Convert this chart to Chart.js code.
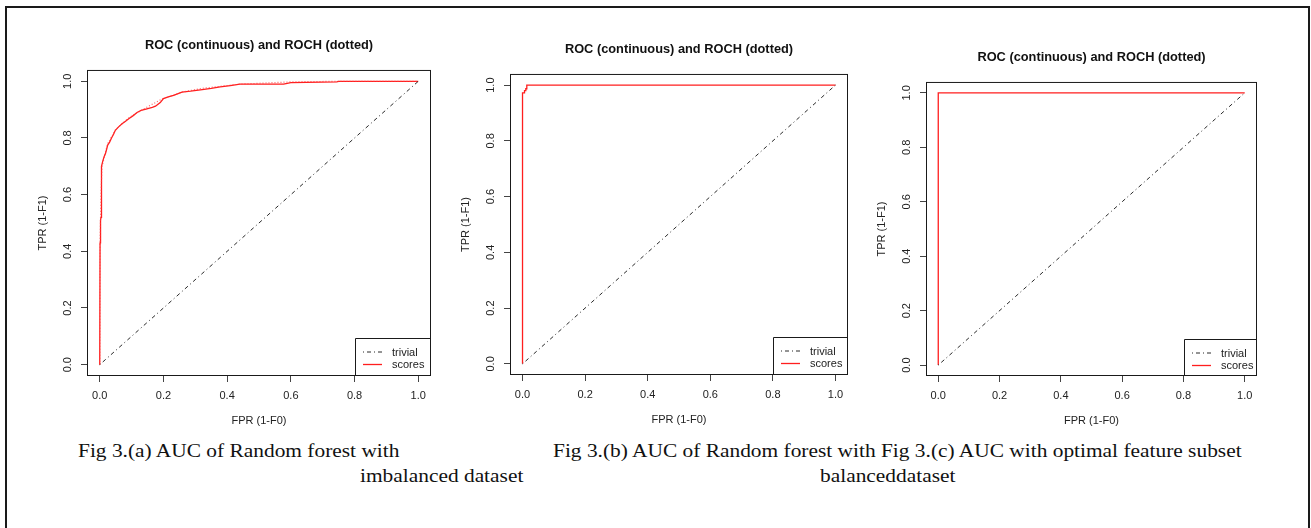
<!DOCTYPE html>
<html>
<head>
<meta charset="utf-8">
<script src="https://cdn.jsdelivr.net/npm/chart.js@4.4.1/dist/chart.umd.min.js"></script>
<style>
  html, body { margin: 0; padding: 0; background: #fff; }
  #page { position: relative; width: 1311px; height: 528px; overflow: hidden; }
  #frame { position: absolute; left: 5px; top: 6px; width: 1301px; height: 560px;
           border: 2px solid #1a1a1a; border-bottom: none; }
  canvas { position: absolute; }
  .cap { position: absolute; font-family: "Liberation Serif", "Times New Roman", serif;
         font-size: 21.4px; line-height: 21px; color: #111; white-space: nowrap;
         transform: scaleY(0.87); }
</style>
</head>
<body>
<div id="page">
  <div id="frame"></div>
  <canvas id="rocA"></canvas>
  <canvas id="rocB"></canvas>
  <canvas id="rocC"></canvas>
  <div class="cap" style="left:78px;top:441px">Fig 3.(a) AUC of Random forest with</div>
  <div class="cap" style="left:360px;top:466px">imbalanced dataset</div>
  <div class="cap" style="left:553px;top:441px">Fig 3.(b) AUC of Random forest with Fig 3.(c) AUC with optimal feature subset</div>
  <div class="cap" style="left:820px;top:466px">balanceddataset</div>
</div>
<script>
// axis ticks (same for all three panels)
const xTicks = [0, 0.2, 0.4, 0.6, 0.8, 1.0];
const yTicks = [0, 0.2, 0.4, 0.6, 0.8, 1.0];
const legendLabels = ['trivial', 'scores'];

// diagonal "trivial" classifier
const trivialFpr = [0, 1];
const trivialTpr = [0, 1];

// (a) random forest, imbalanced data
const rocA_fpr = [0, 0.001, 0.002, 0.003, 0.004, 0.005, 0.006, 0.01, 0.014, 0.018, 0.022, 0.025, 0.031, 0.037,
                  0.043, 0.049, 0.06, 0.07, 0.08, 0.091, 0.104, 0.117, 0.13, 0.148, 0.165, 0.175, 0.19, 0.2,
                  0.215, 0.232, 0.258, 0.285, 0.316, 0.35, 0.378, 0.41, 0.44, 0.577, 0.6, 0.744, 0.75, 1];
const rocA_tpr = [0, 0.43, 0.44, 0.51, 0.52, 0.62, 0.70, 0.72, 0.735, 0.745, 0.762, 0.775, 0.785, 0.80,
                  0.812, 0.827, 0.84, 0.85, 0.858, 0.868, 0.878, 0.89, 0.897, 0.903, 0.908, 0.912, 0.925, 0.939,
                  0.945, 0.95, 0.962, 0.965, 0.97, 0.975, 0.98, 0.985, 0.99, 0.99, 0.995, 0.998, 1.0, 1];
const hullA_fpr = [0, 0.001, 0.004, 0.007, 0.025, 0.05, 0.09, 0.15, 0.2, 0.26, 0.32, 0.44, 0.6, 0.75, 1];
const hullA_tpr = [0, 0.43, 0.60, 0.70, 0.78, 0.83, 0.87, 0.91, 0.94, 0.962, 0.975, 0.99, 0.998, 1.0, 1];

// (b) random forest, balanced data
const rocB_fpr = [0, 0, 0.0064, 0.0064, 0.0105, 0.0105, 0.0137, 0.0137, 0.017, 1];
const rocB_tpr = [0, 0.972, 0.972, 0.98, 0.98, 0.987, 0.987, 1.0, 1.0, 1];

// (c) optimal feature subset
const rocC_fpr = [0, 0, 1];
const rocC_tpr = [0, 1, 1];

Chart.defaults.font.family = '"Liberation Sans", Arial, sans-serif';
Chart.defaults.color = '#222';

const pts = (xs, ys) => xs.map((x, i) => ({x: x, y: ys[i]}));

// R style box around the plot region
const plotBox = {
  id: 'plotBox',
  afterDraw(chart) {
    const a = chart.chartArea, ctx = chart.ctx;
    ctx.save();
    ctx.strokeStyle = '#1a1a1a';
    ctx.lineWidth = 1;
    ctx.strokeRect(a.left + 0.5, a.top + 0.5, a.right - a.left - 1, a.bottom - a.top - 1);
    ctx.restore();
  }
};

// legend in the bottom-right corner, like legend("bottomright") in R
const rLegend = {
  id: 'rLegend',
  afterDatasetsDraw(chart, args, opts) {
    const a = chart.chartArea, ctx = chart.ctx;
    const x0 = Math.round(a.right - opts.w), y0 = Math.round(a.bottom - opts.h);
    ctx.save();
    ctx.fillStyle = '#fff';
    ctx.fillRect(x0, y0, a.right - x0, a.bottom - y0);
    ctx.strokeStyle = '#1a1a1a';
    ctx.lineWidth = 1;
    ctx.beginPath();
    ctx.moveTo(x0 + 0.5, a.bottom);
    ctx.lineTo(x0 + 0.5, y0 + 0.5);
    ctx.lineTo(a.right, y0 + 0.5);
    ctx.stroke();
    const items = chart.data.datasets.filter(d => legendLabels.includes(d.label));
    items.forEach((d, i) => {
      const y = y0 + 14 + i * 12.5;
      ctx.strokeStyle = d.borderColor;
      ctx.lineWidth = d.borderWidth;
      ctx.setLineDash(d.borderDash || []);
      ctx.beginPath();
      ctx.moveTo(x0 + 8, y);
      ctx.lineTo(x0 + 27, y);
      ctx.stroke();
      ctx.setLineDash([]);
      ctx.fillStyle = '#222';
      ctx.font = '11px "Liberation Sans", Arial, sans-serif';
      ctx.textBaseline = 'middle';
      ctx.textAlign = 'left';
      ctx.fillText(d.label, x0 + 37, y + 0.5);
    });
    ctx.restore();
  }
};

function rocChart(id, box, datasets, legendSize) {
  const padL = 60, padR = 60, padT = 40, padB = 58;
  const cv = document.getElementById(id);
  cv.width = box.r - box.l + padL + padR;
  cv.height = box.b - box.t + padT + padB;
  cv.style.left = (box.l - padL) + 'px';
  cv.style.top = (box.t - padT) + 'px';

  return new Chart(cv, {
    type: 'scatter',
    data: { datasets: datasets },
    options: {
      responsive: false,
      animation: false,
      layout: { padding: 0 },
      plugins: {
        legend: { display: false },
        tooltip: { enabled: false },
        title: {
          display: true,
          text: 'ROC (continuous) and ROCH (dotted)',
          color: '#111',
          font: { size: 12.8, weight: 'bold', lineHeight: 1.2 },
          padding: { top: 7.3, bottom: 17.3 }
        },
        rLegend: legendSize
      },
      scales: {
        x: {
          type: 'linear',
          min: -0.04, max: 1.04,
          afterBuildTicks: s => { s.ticks = xTicks.map(v => ({value: v})); },
          afterFit: s => { s.height = padB; },
          border: { display: false },
          grid: { drawOnChartArea: false, drawTicks: true, tickLength: 6, color: '#444' },
          ticks: { padding: 7, color: '#222', font: { size: 11 }, maxRotation: 0,
                   callback: v => v.toFixed(1) },
          title: { display: true, text: 'FPR (1-F0)', color: '#222',
                   font: { size: 11, lineHeight: 1.2 }, padding: { top: 0, bottom: 6.5 } }
        },
        y: {
          type: 'linear',
          min: -0.04, max: 1.04,
          afterBuildTicks: s => { s.ticks = yTicks.map(v => ({value: v})); },
          afterFit: s => { s.width = padL; },
          border: { display: false },
          grid: { drawOnChartArea: false, drawTicks: true, tickLength: 6, color: '#444' },
          ticks: { minRotation: 90, maxRotation: 90, crossAlign: 'center', padding: 5,
                   color: '#222', font: { size: 11 }, callback: v => v.toFixed(1) },
          title: { display: true, text: 'TPR (1-F1)', color: '#222',
                   font: { size: 11, lineHeight: 1.2 }, padding: { top: 9.5, bottom: 0 } }
        },
        // empty right-hand axis so the title is centred over the plot box
        yR: {
          type: 'linear', position: 'right',
          min: -0.04, max: 1.04,
          afterFit: s => { s.width = padR; },
          border: { display: false },
          grid: { display: false },
          ticks: { display: false }
        }
      }
    },
    plugins: [plotBox, rLegend]
  });
}

const trivialSet = () => ({
  label: 'trivial', data: pts(trivialFpr, trivialTpr), showLine: true, pointRadius: 0,
  borderColor: '#2a2a2a', borderWidth: 1, borderDash: [1, 3, 4, 3], fill: false
});
const scoreSet = (fpr, tpr) => ({
  label: 'scores', data: pts(fpr, tpr), showLine: true, pointRadius: 0,
  borderColor: 'rgb(255,30,30)', borderWidth: 1.3, fill: false
});
const hullSet = (fpr, tpr) => ({
  label: 'hull', data: pts(fpr, tpr), showLine: true, pointRadius: 0,
  borderColor: 'rgba(255,60,60,0.8)', borderWidth: 1.2, borderDash: [1, 2], fill: false
});

rocChart('rocA', {l: 87, r: 431, t: 70, b: 376},
  [trivialSet(), hullSet(hullA_fpr, hullA_tpr), scoreSet(rocA_fpr, rocA_tpr)], {w: 76, h: 38});
rocChart('rocB', {l: 510, r: 848, t: 74, b: 375},
  [trivialSet(), scoreSet(rocB_fpr, rocB_tpr)], {w: 75, h: 38});
rocChart('rocC', {l: 926, r: 1257, t: 82, b: 376},
  [trivialSet(), scoreSet(rocC_fpr, rocC_tpr)], {w: 73, h: 37});
</script>
</body>
</html>
